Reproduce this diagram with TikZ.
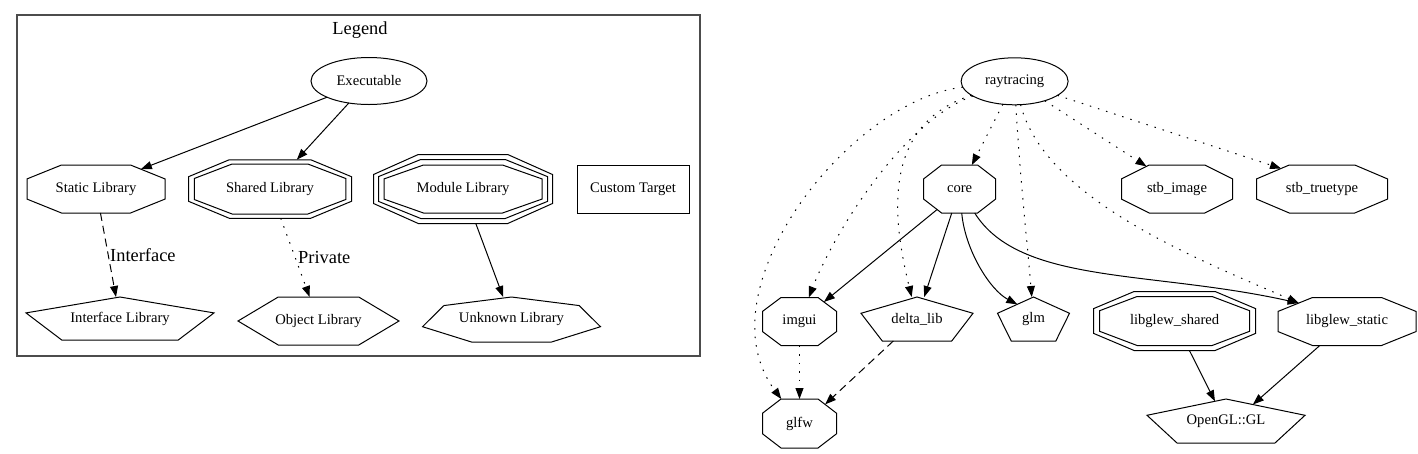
\documentclass[tikz,border=0pt]{standalone}
\usepackage{fontspec}
\setmainfont{Liberation Serif}
\usetikzlibrary{shapes.geometric}
\usetikzlibrary{arrows.meta}
\usetikzlibrary{calc}

\newcommand{\octo}[1]{%
  \coordinate (#1-n1) at ($(#1.north west)!.25!(#1.north east)$);
  \coordinate (#1-n2) at ($(#1.north west)!.75!(#1.north east)$);
  \coordinate (#1-e1) at ($(#1.north east)!.29!(#1.south east)$);
  \coordinate (#1-e2) at ($(#1.north east)!.71!(#1.south east)$);
  \coordinate (#1-s2) at ($(#1.south west)!.75!(#1.south east)$);
  \coordinate (#1-s1) at ($(#1.south west)!.25!(#1.south east)$);
  \coordinate (#1-w2) at ($(#1.north west)!.71!(#1.south west)$);
  \coordinate (#1-w1) at ($(#1.north west)!.29!(#1.south west)$);
  \draw (#1-n1) -- (#1-n2) -- (#1-e1) -- (#1-e2) -- (#1-s2) -- (#1-s1) -- (#1-w2) -- (#1-w1) -- cycle;
}
\newcommand{\penta}[1]{%
  \coordinate (#1-r) at ($(#1.north east)!.37!(#1.south east)$);
  \coordinate (#1-l) at ($(#1.north west)!.37!(#1.south west)$);
  \draw (#1.north) -- (#1-r) -- ($(#1.south west)!.81!(#1.south east)$)
    -- ($(#1.south west)!.19!(#1.south east)$) -- (#1-l) -- cycle;
}

\tikzset{
  every node/.style={inner sep=0pt, outer sep=0pt, font=\fontsize{14.6}{17}\selectfont},
  target/.style 2 args={minimum width=#1, minimum height=#2},
  exe/.style 2 args={ellipse, draw, minimum width=#1, minimum height=#2},
  lbl/.style={font=\fontsize{18.4}{21}\selectfont},
  private/.style={dash pattern=on 1.5pt off 7pt},
  interface/.style={dash pattern=on 8pt off 5pt},
}

\begin{document}
\begin{tikzpicture}[x=1pt, y=-1pt, line width=1pt, >={Triangle[length=11pt, width=8pt]}]
  \useasboundingbox (0,0) rectangle (1418,453);

  \draw[draw=black!70, line width=1.5pt] (17,15) rectangle (700,356);
  \node[lbl] (legend) at (360,30) {Legend};

  \node[exe={116}{47}] (exe) at (369,81) {Executable};
  \node[target={138}{48}] (static) at (96,189) {Static Library};
  \node[target={163}{58.5}] (shared) at (270,189) {Shared Library};
  \node[target={151.5}{50}] (sharedin) at (shared) {};
  \node[target={179}{69}] (module) at (463,189) {Module Library};
  \node[target={169}{59}] (modulemid) at (module) {};
  \node[target={158}{48}] (modulein) at (module) {};
  \node[draw, target={112}{48}] (custom) at (633,189) {Custom Target};
  \node[target={188}{43}] (iface) at (120,318.5) {Interface Library};
  \node[target={161}{48}] (object) at (318.5,321) {Object Library};
  \node[target={178}{45}] (unknown) at (511.5,319.5) {Unknown Library};

  \node[exe={107}{47}] (rt) at (1014.6,81.3) {raytracing};
  \node[target={72}{48}] (core) at (959.6,189) {core};
  \node[target={111}{48}] (stbimage) at (1177,189) {stb\_image};
  \node[target={131}{48}] (stbtruetype) at (1322,189) {stb\_truetype};
  \node[target={74}{48}] (imgui) at (799.5,321.5) {imgui};
  \node[target={112}{44}] (deltalib) at (917,319) {delta\_lib};
  \node[target={72}{44}] (glm) at (1033.5,319) {glm};
  \node[target={162}{59}] (glewshared) at (1174.6,321) {libglew\_shared};
  \node[target={150}{49}] (glewsharedin) at (glewshared) {};
  \node[target={138}{48}] (glewstatic) at (1347,321.5) {libglew\_static};
  \node[target={74}{49}] (glfw) at (799.5,423.5) {glfw};
  \node[target={158}{44}] (opengl) at (1226,421) {OpenGL::GL};

  \foreach \n in {static, shared, sharedin, module, modulemid, modulein, core, stbimage,
                  stbtruetype, imgui, glewshared, glewsharedin, glewstatic, glfw} {\octo{\n}}
  \foreach \n in {iface, deltalib, glm, opengl} {\penta{\n}}

  \draw (object.west) -- ($(object.north west)!.25!(object.north east)$)
    -- ($(object.north west)!.75!(object.north east)$) -- (object.east)
    -- ($(object.south west)!.75!(object.south east)$)
    -- ($(object.south west)!.25!(object.south east)$) -- cycle;
  \draw (unknown.north) -- ($(unknown.north east)!.19!(unknown.south east) + (-21.4,0)$)
    -- ($(unknown.north east)!.66!(unknown.south east)$)
    -- ($(unknown.south west)!.725!(unknown.south east)$)
    -- ($(unknown.south west)!.275!(unknown.south east)$)
    -- ($(unknown.north west)!.66!(unknown.south west)$)
    -- ($(unknown.north west)!.19!(unknown.south west) + (21.4,0)$) -- cycle;

  \draw[->] (exe) -- ($(static-n2)!.3!(static-e1)$);
  \draw[->] (exe) -- (shared);
  \draw[->, interface] (static) -- node[lbl, right=2pt] {Interface} (iface);
  \draw[->, private] (shared) -- node[lbl, right=3pt] {Private} (object);
  \draw[->] (module) -- (unknown);

  \draw[->, private] (rt) -- (core);
  \draw[->, private] (rt) -- ($(stbimage-n1)!.1!(stbimage-w1)$);
  \draw[->, private] (rt) -- ($(stbtruetype-n1)!.25!(stbtruetype-w1)$);
  \draw[->, private] (rt) .. controls (1020,180) and (1028,250) .. (glm);
  \draw[->, private] (rt) .. controls (1045,200) and (1200,260) .. ($(glewstatic-n1)!.4!(glewstatic-w1)$);
  \draw[->, private] (rt) .. controls (880,125) and (893,220) .. (deltalib);
  \draw[->, private] (rt) .. controls (905,120) and (835,230) .. (imgui);
  \draw[->, private] (rt) .. controls (850,100) and (700,290) .. (glfw);

  \draw[->] ($(core-s1)!.25!(core-w2)$) -- ($(imgui-n2)!.32!(imgui-e1)$);
  \draw[->] (core) -- (deltalib);
  \draw[->] (core) .. controls (965,250) and (990,290) .. ($(glm.north)!.45!(glm-l)$);
  \draw[->] (core) .. controls (1020,285) and (1150,270) .. ($(glewstatic-n1)!.4!(glewstatic-w1)$);
  \draw[->, private] (imgui) -- (glfw);
  \draw[->, interface] (deltalib) -- ($(glfw-n2)!.38!(glfw-e1)$);
  \draw[->] (glewshared) -- ($(opengl.north)!.14!(opengl-l)$);
  \draw[->] (glewstatic) -- ($(opengl.north)!.34!(opengl-r)$);
\end{tikzpicture}
\end{document}
